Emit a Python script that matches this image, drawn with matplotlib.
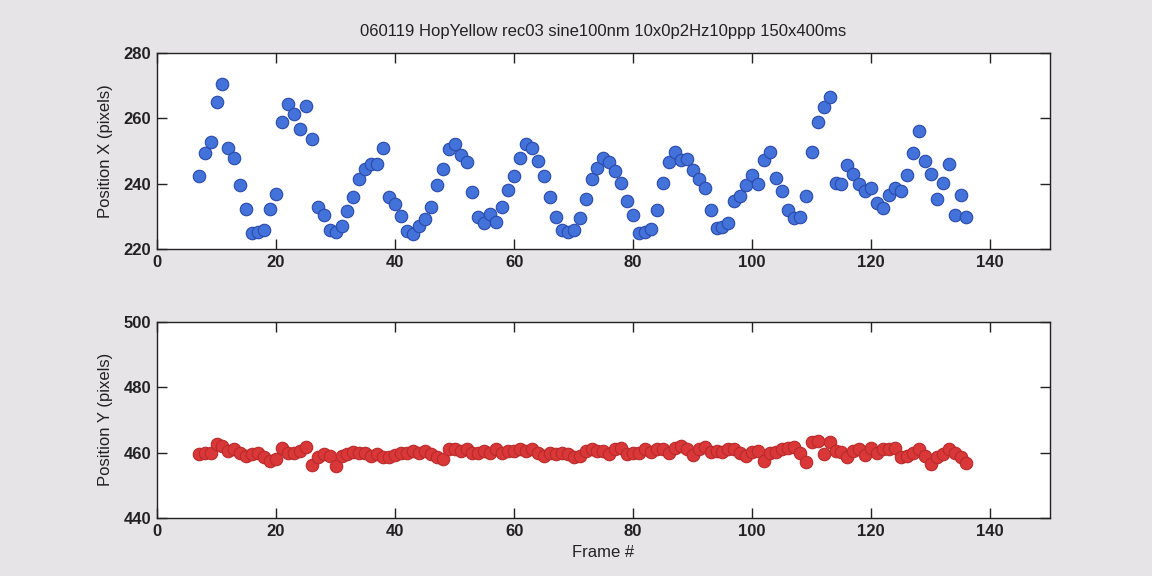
import matplotlib
matplotlib.use("Agg")
import matplotlib.pyplot as plt
import numpy as np

# -- Data -------------------------------------------------------------------

TITLE = "060119 HopYellow rec03 sine100nm 10x0p2Hz10ppp 150x400ms"

frames = np.arange(7, 137)

pos_x = [
    242.4, 249.3, 252.9, 265.1, 270.7, 251.0, 247.8, 239.5, 232.4, 224.8,
    225.3, 225.8, 232.4, 236.8, 258.9, 264.5, 261.4, 256.9, 263.7, 253.8,
    233.0, 230.4, 225.8, 225.3, 227.1, 231.7, 235.9, 241.6, 244.6, 245.9,
    245.9, 250.8, 236.0, 233.7, 230.1, 225.5, 224.5, 227.2, 229.1, 233.0,
    239.6, 244.6, 250.5, 252.2, 248.8, 246.6, 237.6, 229.8, 227.9, 230.6,
    228.3, 233.0, 238.1, 242.4, 247.8, 252.2, 250.8, 246.9, 242.4, 236.0,
    229.8, 225.8, 225.2, 225.7, 229.4, 235.2, 241.5, 244.7, 248.0, 246.7,
    243.9, 240.3, 234.7, 230.4, 225.0, 225.3, 226.0, 231.9, 240.3, 246.7,
    249.7, 247.2, 247.5, 244.1, 241.6, 238.6, 231.9, 226.4, 226.8, 228.0,
    234.7, 236.3, 239.5, 242.7, 239.8, 247.2, 249.8, 241.8, 237.8, 231.9,
    229.4, 229.8, 236.1, 249.8, 259.0, 263.5, 266.5, 240.3, 239.8, 245.7,
    242.9, 240.0, 237.8, 238.8, 234.0, 232.5, 236.5, 238.8, 237.8, 242.7,
    249.5, 256.1, 247.0, 242.9, 235.3, 240.3, 246.1, 230.4, 236.5, 229.8,
]

pos_y = [
    459.5, 460.0, 460.0, 462.5, 462.0, 460.6, 461.0, 460.0, 459.0, 459.5,
    460.0, 458.5, 457.5, 458.0, 461.3, 460.0, 459.8, 460.5, 461.7, 456.2,
    458.5, 459.5, 459.0, 455.9, 459.0, 459.5, 460.3, 460.0, 459.8, 459.0,
    459.5, 458.5, 458.5, 459.3, 459.8, 460.0, 460.5, 460.0, 460.5, 459.5,
    458.5, 458.0, 461.0, 461.0, 460.5, 461.0, 460.0, 459.8, 460.5, 460.0,
    461.0, 460.0, 460.6, 460.5, 461.0, 460.5, 461.0, 460.0, 459.0, 460.0,
    459.5, 460.0, 459.5, 458.5, 459.0, 460.5, 461.2, 460.5, 460.5, 459.5,
    461.0, 461.5, 459.5, 460.0, 459.8, 461.0, 460.2, 461.2, 461.0, 460.0,
    461.5, 462.1, 461.0, 459.1, 461.0, 461.8, 460.2, 460.5, 460.2, 461.2,
    461.0, 460.0, 459.0, 460.2, 460.5, 457.4, 460.0, 460.2, 461.0, 461.5,
    461.8, 460.0, 457.1, 463.1, 463.6, 459.5, 463.3, 460.5, 460.2, 458.5,
    460.5, 461.2, 459.1, 461.5, 460.0, 461.0, 461.2, 461.5, 458.5, 459.0,
    460.0, 461.0, 459.0, 456.5, 458.5, 459.5, 461.0, 460.0, 458.5, 456.9,
]

x_ticks = [0, 20, 40, 60, 80, 100, 120, 140]
top_yticks = [220, 240, 260, 280]
bot_yticks = [440, 460, 480, 500]

# -- Style -------------------------------------------------------------------

BG = "#e7e4e8"
BLUE = "#4272da"
BLUE_EDGE = "#2a4aa8"
RED = "#da3838"
RED_EDGE = "#b82a2a"
INK = "#222222"

plt.rcParams["font.family"] = ["Liberation Sans", "DejaVu Sans"]
plt.rcParams["font.size"] = 12


def style_axes(ax, yticks):
    ax.set_xlim(0, 150)
    ax.set_ylim(yticks[0], yticks[-1])
    ax.set_xticks(x_ticks)
    ax.set_yticks(yticks)
    ax.tick_params(direction="in", length=7, width=1, top=True, right=True,
                   labelsize=12, colors=INK, pad=4)
    for lab in ax.get_xticklabels() + ax.get_yticklabels():
        lab.set_fontweight("bold")
    for sp in ax.spines.values():
        sp.set_linewidth(1)
        sp.set_color(INK)
    ax.set_facecolor("white")


fig = plt.figure(figsize=(11.52, 5.76), dpi=100)
fig.patch.set_facecolor(BG)

ax1 = fig.add_axes([0.1363, 0.5677, 0.775, 0.340])
ax2 = fig.add_axes([0.1363, 0.1007, 0.775, 0.341])

ax1.plot(frames, pos_x, "o", ms=9, mfc=BLUE, mec=BLUE_EDGE, mew=0.8)
ax2.plot(frames, pos_y, "o", ms=9, mfc=RED, mec=RED_EDGE, mew=0.8)

style_axes(ax1, top_yticks)
style_axes(ax2, bot_yticks)

ax1.set_title(TITLE, fontsize=12, color=INK, pad=12)
ax1.set_ylabel("Position X (pixels)", fontsize=12, color=INK, labelpad=8)
ax2.set_ylabel("Position Y (pixels)", fontsize=12, color=INK, labelpad=8)
ax2.set_xlabel("Frame #", fontsize=12, color=INK, labelpad=5)

fig.savefig("out.png", dpi=100, facecolor=fig.get_facecolor())
